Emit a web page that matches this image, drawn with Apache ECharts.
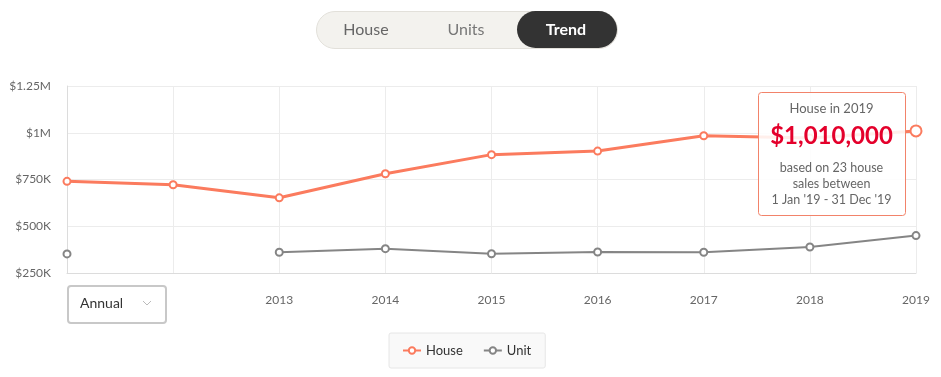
<!DOCTYPE html>
<html>
<head>
<meta charset="utf-8">
<script src="https://cdn.jsdelivr.net/npm/echarts@6/dist/echarts.min.js"></script>
<style>
    html, body { margin: 0; padding: 0; background: #fff; }
    #chart { width: 941px; height: 377px; }
</style>
</head>
<body>
<div id="chart"></div>
<script>
// 数据
var years = ['2011', '2012', '2013', '2014', '2015', '2016', '2017', '2018', '2019'];
var houseValues = [740000, 722000, 652000, 781000, 883000, 902000, 984000, 972000, 1010000];
var unitValues = [352000, null, 361000, 380000, 353000, 362000, 361000, 389000, 450000];
var yTickLabels = ['$250K', '$500K', '$750K', '$1M', '$1.25M'];
var tabs = ['House', 'Units', 'Trend'];

var houseColor = '#fb7b5e';
var unitColor = '#858585';
var font = 'Lato, "Noto Sans", sans-serif';

var myChart = echarts.init(document.getElementById('chart'));

// 最后一个点放大显示
var houseData = houseValues.map(function (v, i) {
    if (i == houseValues.length - 1) {
        return { value: v, symbolSize: 11, itemStyle: { borderWidth: 2.5 } };
    }
    return v;
});

var option = {
    animation: false,
    textStyle: { fontFamily: font },
    grid: { left: 67, right: 25, top: 86, bottom: 104 },
    legend: {
        left: 389,
        top: 333,
        itemWidth: 18,
        itemHeight: 8,
        itemGap: 20,
        padding: [11, 14, 11, 13],
        backgroundColor: '#f9f9f9',
        borderColor: '#e6e6e6',
        borderWidth: 1,
        borderRadius: 2,
        textStyle: { color: '#333', fontSize: 13, fontFamily: font },
        data: ['House', 'Unit']
    },
    xAxis: {
        type: 'category',
        boundaryGap: false,
        data: years,
        axisLine: { lineStyle: { color: '#dcdcdc' } },
        axisTick: { show: false },
        axisLabel: {
            color: '#666',
            fontSize: 12,
            margin: 21,
            // 前两个年份被下拉框挡住
            interval: function (index) { return index >= 2; }
        },
        splitLine: { show: true, interval: 0, lineStyle: { color: '#ececec' } }
    },
    yAxis: {
        type: 'value',
        min: 250000,
        max: 1250000,
        interval: 250000,
        axisLine: { show: true, lineStyle: { color: '#dcdcdc' } },
        axisTick: { show: false },
        axisLabel: {
            color: '#666',
            fontSize: 12,
            margin: 16,
            formatter: function (v) {
                return yTickLabels[Math.round((v - 250000) / 250000)];
            }
        },
        splitLine: { lineStyle: { color: '#ececec' } }
    },
    series: [{
        name: 'House',
        type: 'line',
        data: houseData,
        z: 3,
        color: houseColor,
        symbol: 'emptyCircle',
        symbolSize: 7,
        lineStyle: { width: 3 },
        itemStyle: { color: houseColor, borderWidth: 2 }
    }, {
        name: 'Unit',
        type: 'line',
        data: unitValues,
        z: 2,
        color: unitColor,
        symbol: 'emptyCircle',
        symbolSize: 7,
        connectNulls: false,
        lineStyle: { width: 2 },
        itemStyle: { color: unitColor, borderWidth: 2 }
    }],
    graphic: [
        // 顶部切换按钮
        {
            type: 'rect', left: 316, top: 11, z: 10,
            shape: { width: 301, height: 37, r: 18.5 },
            style: { fill: '#f3f2ee', stroke: '#e2e0da', lineWidth: 1 }
        },
        {
            type: 'rect', left: 517, top: 11, z: 11,
            shape: { width: 100, height: 37, r: 18.5 },
            style: { fill: '#333333' }
        },
        {
            type: 'text', x: 366, y: 29.5, z: 12,
            style: { text: tabs[0], fill: '#666', font: '16px ' + font, align: 'center', verticalAlign: 'middle' }
        },
        {
            type: 'text', x: 466, y: 29.5, z: 12,
            style: { text: tabs[1], fill: '#777', font: '16px ' + font, align: 'center', verticalAlign: 'middle' }
        },
        {
            type: 'text', x: 566, y: 29.5, z: 12,
            style: { text: tabs[2], fill: '#fff', font: 'bold 16px ' + font, align: 'center', verticalAlign: 'middle' }
        },
        // Annual 下拉框
        {
            type: 'rect', left: 67, top: 285, z: 10,
            shape: { width: 98, height: 37, r: 3 },
            style: { fill: '#fff', stroke: '#c8c8c8', lineWidth: 2 }
        },
        {
            type: 'text', x: 80, y: 303, z: 11,
            style: { text: 'Annual', fill: '#333', font: '14px ' + font, verticalAlign: 'middle' }
        },
        {
            type: 'polyline', z: 11,
            shape: { points: [[143, 301], [147, 305], [151, 301]] },
            style: { stroke: '#bbb', lineWidth: 1, fill: null }
        },
        // 提示框
        {
            type: 'rect', left: 758, top: 92, z: 20,
            shape: { width: 147, height: 123, r: 3 },
            style: { fill: 'rgba(255,255,255,0.88)', stroke: '#f2836a', lineWidth: 1 }
        },
        {
            type: 'text', x: 831.5, y: 109, z: 21,
            style: { text: 'House in 2019', fill: '#666', font: '13px ' + font, align: 'center', verticalAlign: 'middle' }
        },
        {
            type: 'text', x: 831.5, y: 136, z: 21,
            style: { text: '$1,010,000', fill: '#e4002b', font: 'bold 24px ' + font, align: 'center', verticalAlign: 'middle' }
        },
        {
            type: 'text', x: 831.5, y: 168, z: 21,
            style: { text: 'based on 23 house', fill: '#666', font: '12.5px ' + font, align: 'center', verticalAlign: 'middle' }
        },
        {
            type: 'text', x: 831.5, y: 184, z: 21,
            style: { text: 'sales between', fill: '#666', font: '12.5px ' + font, align: 'center', verticalAlign: 'middle' }
        },
        {
            type: 'text', x: 831.5, y: 199.5, z: 21,
            style: { text: "1 Jan '19 - 31 Dec '19", fill: '#666', font: '12.5px ' + font, align: 'center', verticalAlign: 'middle' }
        }
    ]
};

myChart.setOption(option);
</script>
</body>
</html>
